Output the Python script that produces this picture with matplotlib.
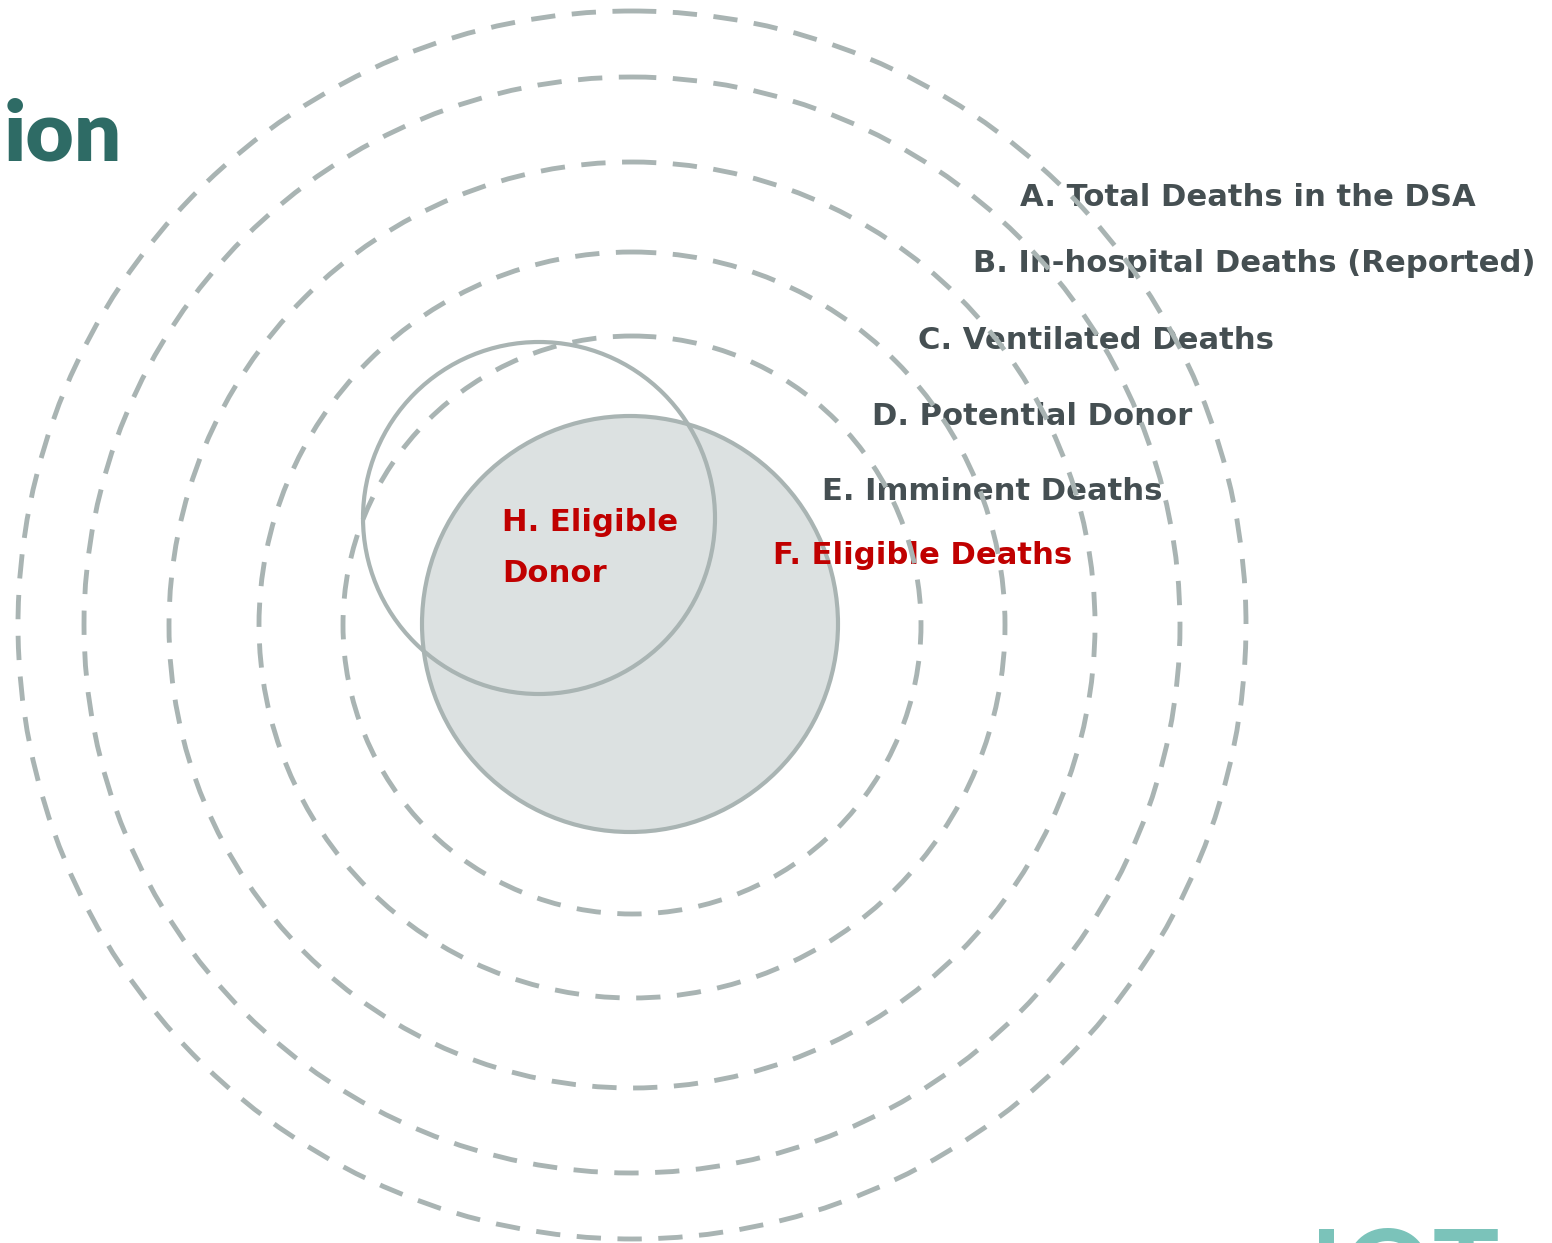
import matplotlib.pyplot as plt
from matplotlib.patches import Circle

# Концентрические пунктирные круги (A..E), центр и радиусы в пикселях
centre = (632, 625)
ring_radii = [614, 548, 463, 373, 289]

# Сплошные круги: F (закрашенный) и H
f_centre, f_radius = (630, 624), 208
h_centre, h_radius = (539, 518), 176

# Подписи уровней
labels = ['A. Total Deaths in the DSA',
          'B. In-hospital Deaths (Reported)',
          'C. Ventilated Deaths',
          'D. Potential Donor',
          'E. Imminent Deaths',
          'F. Eligible Deaths']
label_x = [1020, 973, 918, 872, 822, 773]
label_y = [197, 263, 340, 416, 491, 555]
label_colors = ['#454f52'] * 5 + ['#c00000']

inner_label = 'H. Eligible\nDonor'

W, H = 1552, 1243
fig = plt.figure(figsize=(W / 100, H / 100), dpi=100)
ax = fig.add_axes([0, 0, 1, 1])
ax.set_xlim(0, W)
ax.set_ylim(H, 0)
ax.set_aspect('equal')
ax.axis('off')

ring_color = '#a9b4b3'

# Закрашенный круг F
ax.add_patch(Circle(f_centre, f_radius, facecolor='#dce1e1',
                    edgecolor=ring_color, lw=3, zorder=1))

# Пунктирные круги
for r in ring_radii:
    ax.add_patch(Circle(centre, r, fill=False, edgecolor=ring_color, lw=3.5,
                        linestyle=(0, (5.0, 3.4)), zorder=3))

# Круг H
ax.add_patch(Circle(h_centre, h_radius, fill=False, edgecolor=ring_color,
                    lw=3, zorder=3))

# Подписи
for txt, x, y, c in zip(labels, label_x, label_y, label_colors):
    ax.text(x, y, txt, color=c, fontsize=22.1, fontweight='bold',
            family='DejaVu Sans', ha='left', va='center', zorder=2)

ax.text(502, 548, inner_label, color='#c00000', fontsize=22.1, fontweight='bold',
        family='DejaVu Sans', ha='left', va='center', linespacing=1.95, zorder=2)

# Обрезанный заголовок и логотип
ax.text(122, 160, 'ion', color='#2e6b65', fontsize=60, fontweight='heavy',
        family='Lato', ha='right', va='baseline')
ax.text(1310, 1226, 'IOT', color='#7bc3ba', fontsize=80, fontweight='bold',
        family='Lato', ha='left', va='top')

fig.savefig('out.png', dpi=100)
